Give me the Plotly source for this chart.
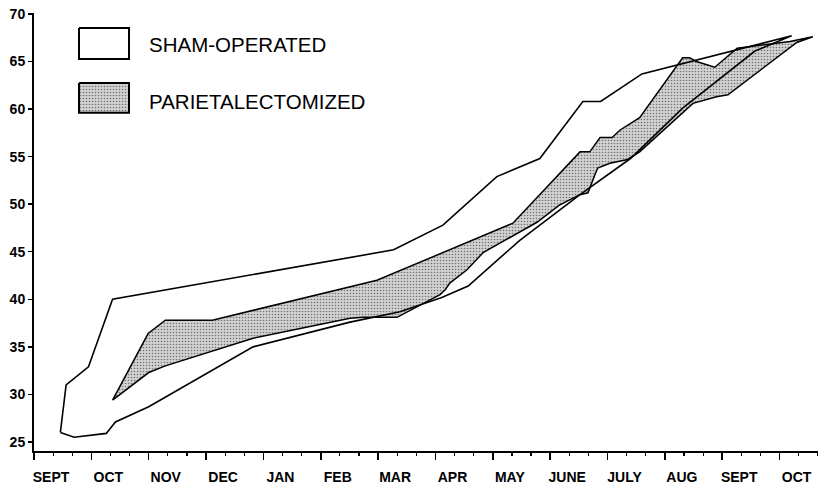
import plotly.graph_objects as go

# ---------------- data (x in months from 1 Sept; y = body measure) ----------------
month_labels = ["SEPT", "OCT", "NOV", "DEC", "JAN", "FEB", "MAR", "APR",
                "MAY", "JUNE", "JULY", "AUG", "SEPT", "OCT"]
month_starts = list(range(14))
y_ticks = [25, 30, 35, 40, 45, 50, 55, 60, 65, 70]

# Sham-operated envelope
sham_upper_m = [0.46, 0.56, 0.95, 1.37, 6.27, 7.13, 8.07, 8.82, 9.57, 9.88, 10.60, 13.21]
sham_upper_y = [26.0, 31.0, 32.9, 40.0, 45.2, 47.8, 52.9, 54.8, 60.8, 60.8, 63.7, 67.7]
sham_lower_m = [0.46, 0.70, 1.26, 1.42, 2.00, 3.82, 5.51, 6.38, 7.11, 7.57, 8.47, 9.52,
                10.40, 11.31, 12.57, 13.21]
sham_lower_y = [26.0, 25.5, 25.9, 27.1, 28.7, 35.0, 37.6, 38.7, 40.2, 41.4, 46.2, 51.0,
                54.8, 60.1, 66.1, 67.7]

# Parietalectomized envelope
par_upper_m = [1.37, 1.99, 2.29, 3.11, 5.98, 8.13, 8.35, 9.52, 9.69, 9.87, 10.08, 10.22,
               10.44, 10.56, 11.31, 11.43, 11.55, 11.87, 12.26, 12.66, 13.18, 13.58]
par_upper_y = [29.4, 36.4, 37.8, 37.8, 42.0, 47.5, 48.0, 55.5, 55.5, 57.0, 57.0, 57.8,
               58.6, 59.1, 65.4, 65.4, 65.0, 64.4, 66.4, 66.7, 67.1, 67.6]
par_lower_m = [1.37, 2.00, 2.29, 3.82, 5.51, 5.74, 6.33, 7.08, 7.17, 7.25, 7.55, 7.83,
               8.77, 9.16, 9.52, 9.66, 9.78, 9.83, 10.04, 10.35, 10.56, 11.49, 11.90,
               12.10, 13.30, 13.58]
par_lower_y = [29.4, 32.3, 33.0, 35.9, 38.0, 38.1, 38.1, 40.5, 41.0, 41.7, 43.1, 44.9,
               48.1, 49.9, 51.0, 51.2, 53.1, 53.8, 54.3, 54.7, 55.5, 60.6, 61.3,
               61.5, 67.0, 67.6]

legend_names = ["SHAM-OPERATED", "PARIETALECTOMIZED"]

# ---------------- styling ----------------
FONT = "Liberation Sans, Arial, Helvetica, sans-serif"
stipple = dict(shape=".", fgcolor="#111111", bgcolor="#d2d2d2", size=3, solidity=0.22)

fig = go.Figure()

# stippled band
fig.add_trace(go.Scatter(
    x=par_upper_m + par_lower_m[::-1], y=par_upper_y + par_lower_y[::-1],
    mode="lines", fill="toself", fillcolor="white", fillpattern=stipple,
    line=dict(color="black", width=1.5), hoverinfo="skip", showlegend=False))

# sham outline (drawn on top)
fig.add_trace(go.Scatter(
    x=sham_upper_m + sham_lower_m[::-1], y=sham_upper_y + sham_lower_y[::-1],
    mode="lines", line=dict(color="black", width=1.6),
    hoverinfo="skip", showlegend=False))

# legend boxes on an overlay axis pair spanning the plot area (0..1)
box_x = [0.0574, 0.1212, 0.1212, 0.0574, 0.0574]
box1_y = [0.966, 0.966, 0.895, 0.895, 0.966]
box2_y = [0.840, 0.840, 0.772, 0.772, 0.840]
fig.add_trace(go.Scatter(x=box_x, y=box1_y, mode="lines", fill="toself",
                         fillcolor="white", line=dict(color="black", width=2),
                         xaxis="x3", yaxis="y3", hoverinfo="skip", showlegend=False))
fig.add_trace(go.Scatter(x=box_x, y=box2_y, mode="lines", fill="toself",
                         fillcolor="white", fillpattern=stipple,
                         line=dict(color="black", width=2),
                         xaxis="x3", yaxis="y3", hoverinfo="skip", showlegend=False))

for name, yy in zip(legend_names, [0.929, 0.799]):
    fig.add_annotation(text=name, xref="paper", yref="paper", x=0.1454, y=yy,
                       xanchor="left", yanchor="middle", showarrow=False,
                       borderpad=0,
                       font=dict(family=FONT, size=20.5, color="black"))

fig.update_layout(
    width=828, height=488,
    margin=dict(l=34, r=10, t=13, b=37, autoexpand=False),
    paper_bgcolor="white", plot_bgcolor="white",
    showlegend=False,
    xaxis=dict(range=[0, 13.67], tickmode="array", tickvals=month_starts,
               ticktext=month_labels, ticks="outside", ticklen=7, tickwidth=1.5,
               tickcolor="black", showline=True, linewidth=2, linecolor="black",
               showgrid=False, zeroline=False, ticklabelshift=17,
               ticklabelstandoff=5, automargin=False,
               tickfont=dict(family=FONT, size=14, color="black", weight="bold"),
               minor=dict(dtick=1/3, tick0=0, ticks="outside", ticklen=3,
                          tickwidth=1.2, tickcolor="black", showgrid=False)),
    yaxis=dict(range=[24.05, 70.1], tickmode="array", tickvals=y_ticks,
               ticks="outside", ticklen=4, tickwidth=1.5, tickcolor="black",
               showline=True, linewidth=2, linecolor="black", automargin=False,
               showgrid=False, zeroline=False,
               tickfont=dict(family=FONT, size=14, color="black", weight="bold")),
    xaxis3=dict(overlaying="x", range=[0, 1], visible=False, fixedrange=True),
    yaxis3=dict(overlaying="y", range=[0, 1], visible=False, fixedrange=True),
)

fig.write_html("out.html",
               config={"displayModeBar": False, "staticPlot": True},
               post_script="document.body.style.margin='0px';"
                           "document.body.style.overflow='hidden';")
